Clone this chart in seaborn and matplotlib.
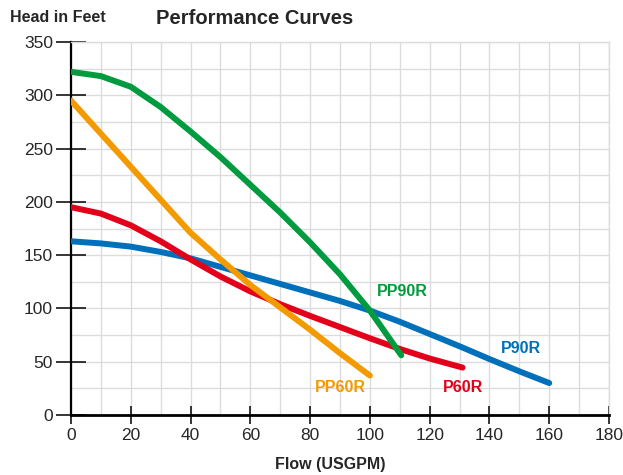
import numpy as np
import pandas as pd
import matplotlib
matplotlib.use("Agg")
import matplotlib.pyplot as plt
import matplotlib.ticker as mticker
import seaborn as sns

# pump curves: flow (USGPM) vs head (ft)
pp90r_flow = [0, 10, 20, 30, 40, 50, 60, 70, 80, 90, 100, 110.5]
pp90r_head = [322, 318, 308, 289, 266, 242, 216, 190, 162, 132, 98, 56]

pp60r_flow = [0, 10, 20, 30, 40, 50, 60, 70, 80, 90, 100]
pp60r_head = [295, 264, 233, 202, 171, 146, 122, 101, 80, 58, 37]

p60r_flow = [0, 10, 20, 30, 40, 50, 60, 70, 80, 90, 100, 110, 120, 131]
p60r_head = [195, 189, 178, 163, 146, 130, 116, 104, 93, 82.5, 72, 62, 53, 44.5]

p90r_flow = [0, 10, 20, 30, 40, 50, 60, 70, 80, 90, 100, 110, 120, 130, 140, 150, 160]
p90r_head = [163, 161, 158, 153, 147, 139, 131, 123, 115, 107, 98, 87.5, 76, 64.5, 52.5, 41, 30]

x_ticks = list(range(0, 181, 20))
y_ticks = list(range(0, 351, 50))

COLORS = {
    "PP90R": "#009B3E",
    "PP60R": "#F29A00",
    "P60R": "#E2001A",
    "P90R": "#0070BA",
}
# label anchor (flow, head)
LABELS = {
    "PP90R": (111, 116),
    "PP60R": (90, 26),
    "P60R": (131, 26),
    "P90R": (150.5, 62),
}

sns.set_theme(style="white")
plt.rcParams["font.family"] = ["Liberation Sans", "DejaVu Sans"]

fig = plt.figure(figsize=(6.23, 4.75), dpi=100)
ax = fig.add_axes([71 / 623, 1 - 415 / 475, 538 / 623, 373 / 475])

series = [
    ("P90R", p90r_flow, p90r_head),
    ("P60R", p60r_flow, p60r_head),
    ("PP60R", pp60r_flow, pp60r_head),
    ("PP90R", pp90r_flow, pp90r_head),
]
for name, fx, hy in series:
    df = pd.DataFrame({"flow": fx, "head": hy})
    sns.lineplot(data=df, x="flow", y="head", ax=ax, color=COLORS[name],
                 lw=4.3, solid_capstyle="round", solid_joinstyle="round",
                 zorder=3)
    lx, ly = LABELS[name]
    ax.text(lx, ly, name, color=COLORS[name], fontsize=11.5,
            fontweight="bold", ha="center", va="center")

ax.set_xlim(0, 180)
ax.set_ylim(0, 350)
ax.xaxis.set_major_locator(mticker.FixedLocator(x_ticks))
ax.yaxis.set_major_locator(mticker.FixedLocator(y_ticks))
ax.xaxis.set_minor_locator(mticker.MultipleLocator(10))
ax.yaxis.set_minor_locator(mticker.MultipleLocator(25))
ax.grid(which="both", color="#dcdcdc", lw=1.0, zorder=0)
ax.set_axisbelow(True)

ax.tick_params(axis="y", which="major", left=True, direction="inout",
               length=22, width=1.1, color="black", labelsize=12.5, pad=2)
ax.tick_params(axis="x", which="major", bottom=True, direction="inout",
               length=13, width=1.1, color="black", labelsize=12.5, pad=3)
ax.tick_params(which="minor", length=0)

for side in ["top", "right"]:
    ax.spines[side].set_color("#dcdcdc")
    ax.spines[side].set_linewidth(1.0)
ax.spines["left"].set_color("black")
ax.spines["left"].set_linewidth(1.6)
ax.spines["bottom"].set_color("black")
ax.spines["bottom"].set_linewidth(2.0)

ax.set_xlabel("")
ax.set_ylabel("")
fig.text(330 / 623, 1 - 465 / 475, "Flow (USGPM)", ha="center", va="center",
         fontsize=11.5, fontweight="bold")
fig.text(10 / 623, 1 - 18 / 475, "Head in Feet", ha="left", va="center",
         fontsize=11.5, fontweight="bold")
fig.text(255 / 623, 1 - 18 / 475, "Performance Curves", ha="center",
         va="center", fontsize=14.5, fontweight="bold")

fig.savefig("out.png", dpi=100)
